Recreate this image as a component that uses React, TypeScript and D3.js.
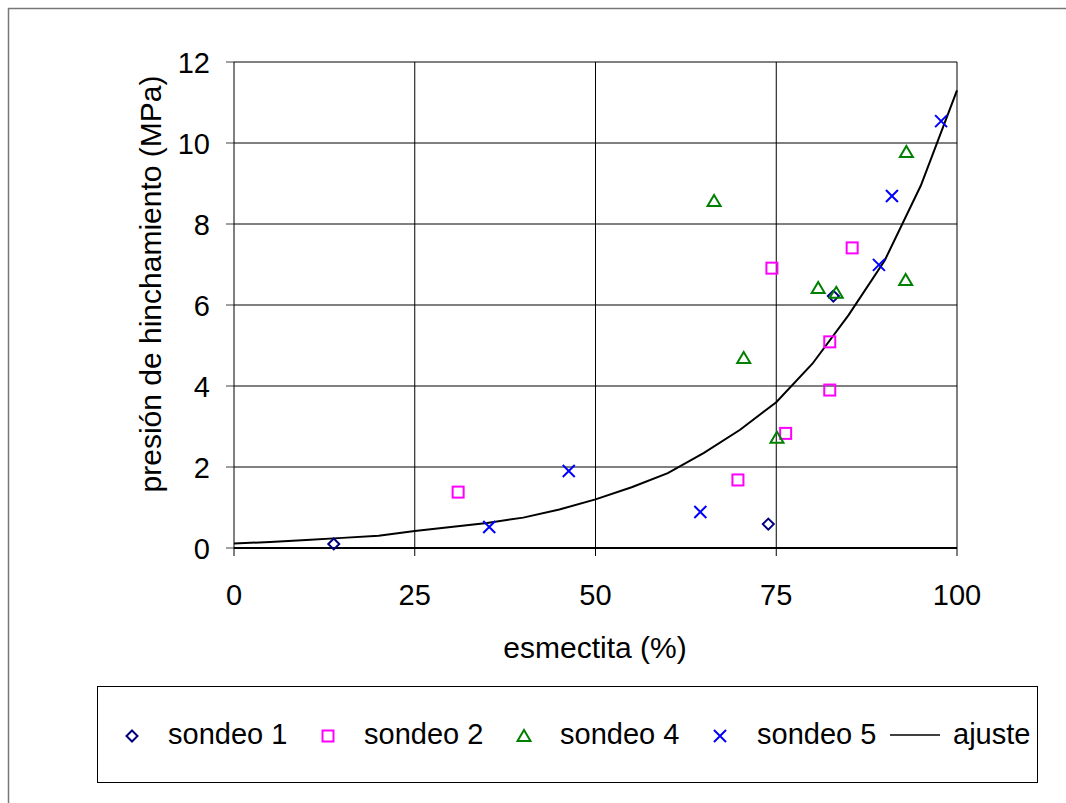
import React from "react";
import * as d3 from "d3";

// esmectita (%) / presión de hinchamiento (MPa) for each borehole
const sondeo1X = [13.8, 73.9, 82.9];
const sondeo1Y = [0.1, 0.59, 6.22];
const sondeo2X = [31.0, 74.4, 85.5, 82.4, 82.4, 76.3, 69.7];
const sondeo2Y = [1.38, 6.91, 7.41, 5.09, 3.9, 2.83, 1.68];
const sondeo4X = [66.4, 93.0, 80.8, 83.3, 92.9, 70.5, 75.1];
const sondeo4Y = [8.57, 9.78, 6.42, 6.3, 6.62, 4.69, 2.72];
const sondeo5X = [97.8, 91.0, 89.2, 46.3, 35.3, 64.5];
const sondeo5Y = [10.54, 8.69, 6.99, 1.9, 0.52, 0.89];

// fitted curve
const ajusteX = [0, 5, 10, 15, 20, 25, 30, 35, 40, 45, 50, 55, 60, 65, 70, 75, 80, 85, 90, 95, 100];
const ajusteY = [0.11, 0.15, 0.2, 0.25, 0.3, 0.42, 0.52, 0.62, 0.75, 0.95, 1.2, 1.5, 1.85, 2.35, 2.92, 3.6, 4.55, 5.75, 7.1, 8.95, 11.3];

const xTicks = [0, 25, 50, 75, 100];
const yTicks = [0, 2, 4, 6, 8, 10, 12];

const legendLabels = ["sondeo 1", "sondeo 2", "sondeo 4", "sondeo 5", "ajuste"];

const FONT = "'Liberation Sans', Arial, sans-serif";
const FS = 29;
const TITLE_FS = 30;

const left = 234;
const right = 957;
const top = 62;
const bottom = 548;

function Marker({ kind, x, y }: { kind: string; x: number; y: number }) {
  if (kind === "diamond") {
    const r = 5.5;
    return (
      <path
        d={`M${x},${y - r}L${x + r},${y}L${x},${y + r}L${x - r},${y}Z`}
        fill="none"
        stroke="#000080"
        strokeWidth={2}
      />
    );
  }
  if (kind === "square") {
    const r = 5.5;
    return <rect x={x - r} y={y - r} width={2 * r} height={2 * r} fill="none" stroke="#FF00FF" strokeWidth={2} />;
  }
  if (kind === "triangle") {
    return (
      <path
        d={`M${x},${y - 6}L${x + 6.5},${y + 5}L${x - 6.5},${y + 5}Z`}
        fill="none"
        stroke="#008000"
        strokeWidth={2}
      />
    );
  }
  const r = 6;
  return (
    <path
      d={`M${x - r},${y - r}L${x + r},${y + r}M${x - r},${y + r}L${x + r},${y - r}`}
      stroke="#0000FF"
      strokeWidth={2}
    />
  );
}

export default function App() {
  const x = d3.scaleLinear().domain([0, 100]).range([left, right]);
  const y = d3.scaleLinear().domain([0, 12]).range([bottom, top]);

  const series = [
    { kind: "diamond", xs: sondeo1X, ys: sondeo1Y },
    { kind: "square", xs: sondeo2X, ys: sondeo2Y },
    { kind: "triangle", xs: sondeo4X, ys: sondeo4Y },
    { kind: "cross", xs: sondeo5X, ys: sondeo5Y },
  ];

  const line = d3
    .line<number>()
    .x((d) => x(d))
    .y((_, i) => y(ajusteY[i]));

  const legendItems = [
    { kind: "diamond", mx: 132, tx: 168 },
    { kind: "square", mx: 328, tx: 364 },
    { kind: "triangle", mx: 524, tx: 560 },
    { kind: "cross", mx: 720, tx: 757 },
  ];

  return (
    <svg
      width={1066}
      height={803}
      style={{ position: "absolute", left: 0, top: 0, background: "#fff" }}
      fontFamily={FONT}
    >
      <rect x={8.5} y={8.5} width={1100} height={840} fill="#fff" stroke="#777" strokeWidth={1.5} />

      {/* horizontal gridlines */}
      {yTicks.map((t) => (
        <g key={"h" + t}>
          {t > 0 && t < 12 && (
            <line x1={left} x2={right} y1={y(t)} y2={y(t)} stroke="#808080" strokeWidth={2} />
          )}
          <line x1={left - 8} x2={left} y1={y(t)} y2={y(t)} stroke="#808080" strokeWidth={1.5} />
          <text x={210} y={y(t) + 10.5} textAnchor="end" fontSize={FS} fill="#000">
            {t}
          </text>
        </g>
      ))}

      {/* vertical gridlines */}
      {xTicks.map((t) => (
        <g key={"v" + t}>
          {t > 0 && t < 100 && <line x1={x(t)} x2={x(t)} y1={top} y2={bottom} stroke="#000" strokeWidth={1} />}
          <line x1={x(t)} x2={x(t)} y1={bottom} y2={bottom + 8} stroke="#000" strokeWidth={1} />
          <text x={x(t)} y={605} textAnchor="middle" fontSize={FS} fill="#000">
            {t}
          </text>
        </g>
      ))}

      {/* plot frame */}
      <line x1={left} x2={right} y1={top} y2={top} stroke="#000" strokeWidth={1} />
      <line x1={right} x2={right} y1={top} y2={bottom} stroke="#000" strokeWidth={1} />
      <line x1={left} x2={left} y1={top} y2={bottom} stroke="#000" strokeWidth={1} />
      <line x1={left} x2={right} y1={bottom} y2={bottom} stroke="#000" strokeWidth={2} />

      {/* fitted curve */}
      <path d={line(ajusteX) || ""} fill="none" stroke="#000" strokeWidth={2} />

      {series.map((s) =>
        s.xs.map((v, i) => <Marker key={s.kind + i} kind={s.kind} x={x(v)} y={y(s.ys[i])} />)
      )}

      {/* axis titles */}
      <text x={595} y={658} textAnchor="middle" fontSize={TITLE_FS} fill="#000">
        esmectita (%)
      </text>
      <text transform={`translate(161,284) rotate(-90)`} textAnchor="middle" fontSize={TITLE_FS} fill="#000">
        presión de hinchamiento (MPa)
      </text>

      {/* legend */}
      <rect x={97.5} y={686.5} width={940} height={96} fill="#fff" stroke="#000" strokeWidth={1} />
      {legendItems.map((it, i) => (
        <g key={"lg" + i}>
          <Marker kind={it.kind} x={it.mx} y={736} />
          <text x={it.tx} y={744} fontSize={FS} fill="#000">
            {legendLabels[i]}
          </text>
        </g>
      ))}
      <line x1={890} x2={940} y1={735} y2={735} stroke="#000" strokeWidth={1.5} />
      <text x={953} y={744} fontSize={FS} fill="#000">
        {legendLabels[4]}
      </text>
    </svg>
  );
}
